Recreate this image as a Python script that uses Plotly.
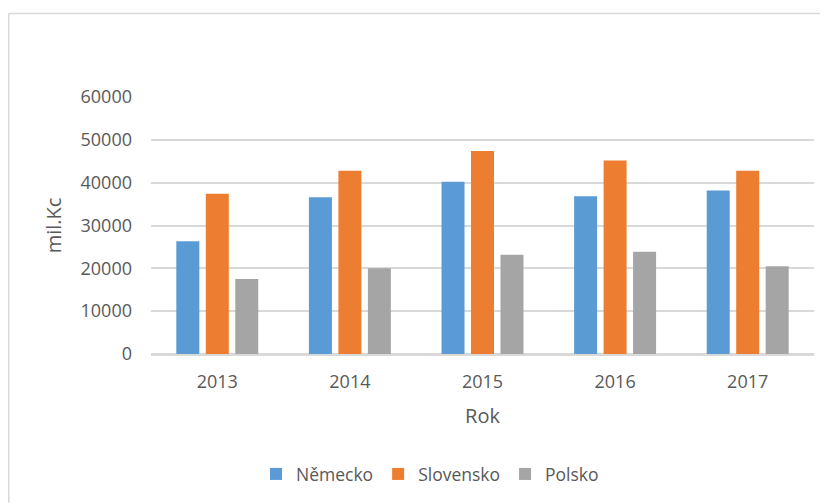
import plotly.graph_objects as go

years = ["2013", "2014", "2015", "2016", "2017"]
nemecko = [26300, 36600, 40200, 36800, 38200]
slovensko = [37400, 42800, 47400, 45200, 42800]
polsko = [17500, 20000, 23200, 23900, 20500]
series_names = ["Německo", "Slovensko", "Polsko"]
colors = ["#5B9BD5", "#ED7D31", "#A5A5A5"]

FONT = "Open Sans"
TXT = "#595959"

fig = go.Figure()
for name, vals, col in zip(series_names, [nemecko, slovensko, polsko], colors):
    fig.add_trace(go.Bar(x=years, y=vals, name=name, marker=dict(color=col, line=dict(width=0))))

# page body has an 8px margin; work in screen coordinates and offset
OFF = 8
W, H = 828 - OFF, 504 - OFF
L, R, T, B = 151 - OFF, 14, 97 - OFF, 148
pw, ph = W - L - R, H - T - B

def px_x(x):
    return (x - OFF - L) / pw

def px_y(y):
    return (H - B - (y - OFF)) / ph

fig.update_layout(
    width=W, height=H,
    margin=dict(l=L, r=R, t=T, b=B),
    paper_bgcolor="white", plot_bgcolor="white",
    barmode="group", bargap=0.333, bargroupgap=0.22,
    font=dict(family=FONT, color=TXT, size=18),
    showlegend=True,
    legend=dict(orientation="h", x=px_x(256), xanchor="left", y=px_y(477), yanchor="middle",
                font=dict(size=17.5, color=TXT), itemwidth=30, traceorder="normal"),
    xaxis=dict(showgrid=False, showline=True, linecolor="#d9d9d9", linewidth=1.5,
               tickfont=dict(size=18, color=TXT), ticklabelstandoff=11,
               title=dict(text="Rok", font=dict(size=20, color=TXT), standoff=17)),
    yaxis=dict(range=[0, 60000], tickvals=[0, 10000, 20000, 30000, 40000, 50000, 60000],
               ticktext=["0", "10000", "20000", "30000", "40000", "50000", "60000"],
               showgrid=True, gridcolor="#d9d9d9", gridwidth=1.5,
               zeroline=True, zerolinecolor="#d9d9d9", zerolinewidth=1.5,
               tickfont=dict(size=18, color=TXT), ticklabelstandoff=18,
               title=dict(text="mil.Kc", font=dict(size=20, color=TXT), standoff=13)),
    shapes=[
        dict(type="line", xref="paper", yref="paper", x0=px_x(8.75), x1=px_x(830), y0=px_y(12.75), y1=px_y(12.75),
             line=dict(color="#d9d9d9", width=1.5)),
        dict(type="line", xref="paper", yref="paper", x0=px_x(8.75), x1=px_x(8.75), y0=px_y(12.75), y1=px_y(506),
             line=dict(color="#d9d9d9", width=1.5)),
    ],
)

fig.write_html("out.html")
